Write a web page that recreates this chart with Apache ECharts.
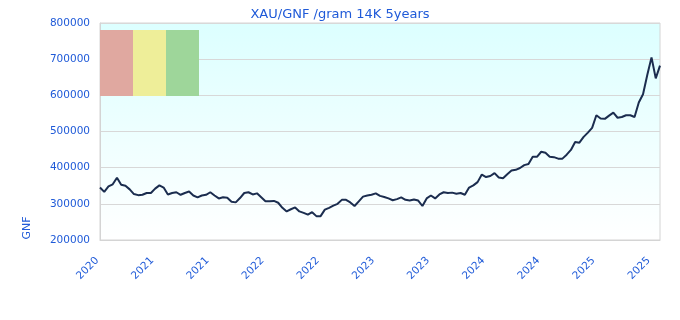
<!DOCTYPE html>
<html>
<head>
<meta charset="utf-8">
<script src="https://cdn.jsdelivr.net/npm/echarts@6/dist/echarts.min.js"></script>
<style>html,body{margin:0;padding:0;background:#fff}#c{width:680px;height:320px}</style>
</head>
<body>
<div id="c"></div>
<script>
// Biweekly sampling, starting late Oct 2020
const startDate = '2020-10-30';
const stepDays = 14;
// XAU/GNF per gram 14K, thousands of GNF
const valuesK = [
345,333,348,354,372,353,350,340,327,324,325,330,330,342,351,345,326,330,332,325,
330,334,323,318,323,325,332,323,315,318,317,306,304,316,330,332,326,329,318,307,
307,308,303,289,279,285,290,279,275,270,277,266,266,284,289,295,300,311,311,304,
294,307,320,323,325,329,322,319,315,310,313,318,311,309,312,309,294,315,323,315,
326,332,330,331,328,330,325,345,351,360,381,374,377,385,373,371,382,392,394,399,
407,410,430,430,444,441,430,429,425,425,436,449,471,469,485,497,510,545,536,535,
544,552,538,540,545,545,540,580,603,656,705,647,682
];
const yTicks = [200000, 800000, 100000]; // min, max, step
const titleText = 'XAU/GNF /gram 14K 5years';
const unitName = 'GNF';
const boxColors = ['#e0a8a0', '#eeee99', '#9ed69a'];

const categories = [];
{
  const d0 = new Date(startDate + 'T00:00:00Z');
  for (let i = 0; i < valuesK.length; i++) {
    const d = new Date(d0.getTime() + i * stepDays * 86400000);
    categories.push(d.toISOString().slice(0, 10));
  }
}
const values = valuesK.map(v => v * 1000);

const blue = '#1f5ad8';
const chart = echarts.init(document.getElementById('c'));
chart.setOption({
  animation: false,
  title: {
    text: titleText, left: 'center', top: 3,
    textStyle: { color: blue, fontSize: 13, fontWeight: 'normal', fontFamily: 'DejaVu Sans' }
  },
  grid: {
    left: 100, right: 20, top: 23, bottom: 80,
    show: true, borderColor: '#d4d4d4', borderWidth: 1,
    backgroundColor: new echarts.graphic.LinearGradient(0, 0, 0, 1, [
      { offset: 0, color: '#dcffff' }, { offset: 1, color: '#ffffff' }
    ])
  },
  xAxis: {
    type: 'category', data: categories, boundaryGap: false,
    axisLine: { lineStyle: { color: '#d4d4d4' } },
    axisTick: { show: false },
    axisLabel: {
      interval: 12, rotate: 45, color: blue, fontSize: 10.5, fontFamily: 'DejaVu Sans', margin: 16,
      padding: [0, 4, 0, 0],
      formatter: v => v.slice(0, 4)
    },
    splitLine: { show: false }
  },
  yAxis: {
    type: 'value', min: yTicks[0], max: yTicks[1], interval: yTicks[2],
    axisLine: { show: true, lineStyle: { color: '#d4d4d4' } },
    axisTick: { show: false },
    axisLabel: { color: blue, fontSize: 10.5, fontFamily: 'DejaVu Sans', margin: 10, formatter: v => String(v) },
    splitLine: { lineStyle: { color: '#d8d8d8' } }
  },
  graphic: [
    { type: 'rect', shape: { x: 100, y: 30, width: 33, height: 66 }, style: { fill: boxColors[0] }, z: 1 },
    { type: 'rect', shape: { x: 133, y: 30, width: 33, height: 66 }, style: { fill: boxColors[1] }, z: 1 },
    { type: 'rect', shape: { x: 166, y: 30, width: 33, height: 66 }, style: { fill: boxColors[2] }, z: 1 },
    { type: 'text', x: 27, y: 228, rotation: Math.PI / 2,
      style: { text: unitName, fill: blue, fontSize: 11, fontFamily: 'DejaVu Sans', align: 'center', verticalAlign: 'middle' } }
  ],
  series: [{
    type: 'line', data: values, showSymbol: false, symbol: 'none',
    lineStyle: { color: '#1b2d4f', width: 2 }, z: 3
  }]
});
</script>
</body>
</html>
